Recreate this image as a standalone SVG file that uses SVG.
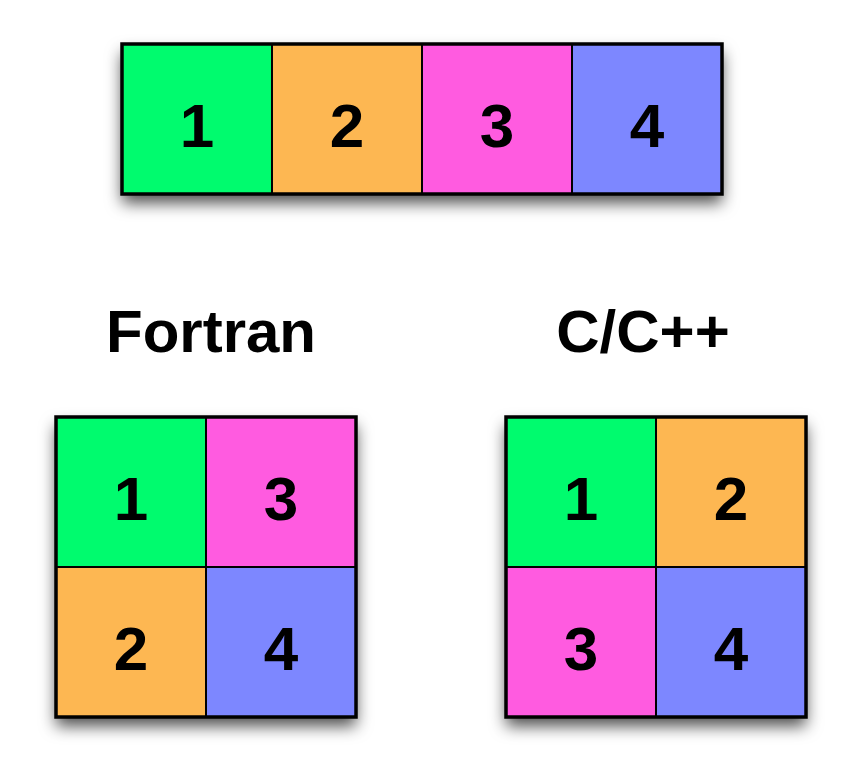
<svg xmlns="http://www.w3.org/2000/svg" width="862" height="784" viewBox="0 0 862 784">
<defs>
<filter id="sh" x="-20%" y="-20%" width="140%" height="160%">
<feDropShadow dx="0" dy="9" stdDeviation="8" flood-color="#000" flood-opacity="0.7"/>
</filter>
<style>
.c{stroke:#000;stroke-width:2}
.f{fill:none;stroke:#000;stroke-width:3.5}
.g{fill:#00FB6E}.o{fill:#FDB752}.p{fill:#FF5BE0}.b{fill:#7D87FF}
.n{font-family:"Liberation Sans",Arial,sans-serif;font-weight:bold;font-size:62px;fill:#000;text-anchor:middle}
.t{font-family:"Liberation Sans",Arial,sans-serif;font-weight:bold;font-size:60px;fill:#000;text-anchor:middle}
</style>
</defs>
<rect width="862" height="784" fill="#fff"/>
<g id="row">
<rect x="122" y="44" width="600" height="150" fill="#000" filter="url(#sh)"/>
<g id="r1"><rect class="c g" x="122" y="44" width="150" height="150"/><text class="n" x="197" y="147">1</text></g>
<g id="r2"><rect class="c o" x="272" y="44" width="150" height="150"/><text class="n" x="347" y="147">2</text></g>
<g id="r3"><rect class="c p" x="422" y="44" width="150" height="150"/><text class="n" x="497" y="147">3</text></g>
<g id="r4"><rect class="c b" x="572" y="44" width="150" height="150"/><text class="n" x="647" y="147">4</text></g>
<rect class="f" x="122" y="44" width="600" height="150"/>
</g>
<g id="fortran-label"><text class="t" x="211" y="352">Fortran</text></g>
<g id="c-label"><text class="t" x="643" y="352">C/C++</text></g>
<g id="fortran">
<rect x="56" y="417" width="300" height="300" fill="#000" filter="url(#sh)"/>
<g id="f1"><rect class="c g" x="56" y="417" width="150" height="150"/><text class="n" x="131" y="520">1</text></g>
<g id="f3"><rect class="c p" x="206" y="417" width="150" height="150"/><text class="n" x="281" y="520">3</text></g>
<g id="f2"><rect class="c o" x="56" y="567" width="150" height="150"/><text class="n" x="131" y="670">2</text></g>
<g id="f4"><rect class="c b" x="206" y="567" width="150" height="150"/><text class="n" x="281" y="670">4</text></g>
<rect class="f" x="56" y="417" width="300" height="300"/>
</g>
<g id="cpp">
<rect x="506" y="417" width="300" height="300" fill="#000" filter="url(#sh)"/>
<g id="c1"><rect class="c g" x="506" y="417" width="150" height="150"/><text class="n" x="581" y="520">1</text></g>
<g id="c2"><rect class="c o" x="656" y="417" width="150" height="150"/><text class="n" x="731" y="520">2</text></g>
<g id="c3"><rect class="c p" x="506" y="567" width="150" height="150"/><text class="n" x="581" y="670">3</text></g>
<g id="c4"><rect class="c b" x="656" y="567" width="150" height="150"/><text class="n" x="731" y="670">4</text></g>
<rect class="f" x="506" y="417" width="300" height="300"/>
</g>
<g id="connectors"/>
</svg>
